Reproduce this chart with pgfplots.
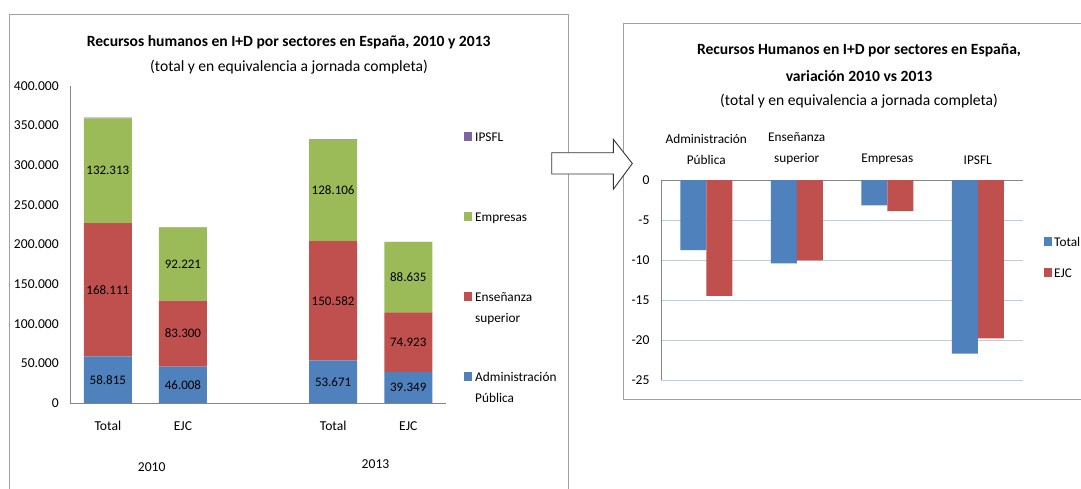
\documentclass[border=0pt]{standalone}
\usepackage{pgfplots}
\pgfplotsset{compat=1.18}
\usepackage{pgfplotstable}
\usepackage{fontspec}
\setmainfont{Carlito}
\definecolor{cblue}{HTML}{4F81BD}
\definecolor{cred}{HTML}{C0504D}
\definecolor{cgreen}{HTML}{9BBB59}
\definecolor{cpurple}{HTML}{8064A2}
\definecolor{framegray}{HTML}{A0A0A0}
\definecolor{axisgray}{HTML}{868686}
\definecolor{gridblue}{HTML}{B9CDE5}
\pgfkeys{/pgf/number format/assume math mode=true}

\pgfplotstableread{
x adm ens emp ipsfl
0 58815 168111 132313 707
1 46008 83300 92221 493
3 53671 150582 128106 553
4 39349 74923 88635 395
}\stackdata

\pgfplotstableread{
x total ejc
0 -8.75 -14.47
1 -10.43 -10.06
2 -3.18 -3.89
3 -21.7 -19.8
}\vardata

\newcommand{\fs}{\fontsize{13.6}{16}\selectfont}
\newcommand{\fl}{\fontsize{13}{16}\selectfont}
\newcommand{\ft}{\fontsize{15.6}{18}\selectfont}

\pgfplotsset{
  sqlegend/.style={legend image code/.code={\fill[##1] (0pt,0pt) rectangle (8pt,9pt);}},
  midlabel/.style={
    nodes near coords={\pgfmathprintnumber[fixed,precision=0,1000 sep={.}]{\pgfplotspointmeta}},
    point meta={\thisrow{#1}},
    every node near coord/.append style={font=\fl, text=black, inner sep=0pt},
  },
}

\begin{document}
\begin{tikzpicture}[x=1pt,y=1pt]
\clip (0,0) rectangle (1081,-488);
\fill[white] (0,0) rectangle (1081,-488);
\draw[framegray, line width=1pt] (9.2,-14.7) rectangle (568.6,-500);
\draw[framegray, line width=1pt] (623,-23) rectangle (1100,-399);

\begin{axis}[
  at={(70.3pt,-403pt)}, anchor=south west,
  scale only axis, width=375.5pt, height=317pt,
  ybar stacked, bar width=48pt,
  xmin=-0.5, xmax=4.5, ymin=0, ymax=400000,
  axis x line*=bottom, axis y line*=left,
  axis line style={axisgray, line width=1pt},
  xtick={0,1,3,4}, xticklabels={Total,EJC,Total,EJC},
  ytick={0,50000,...,400000},
  scaled y ticks=false,
  major tick length=0pt,
  tick label style={font=\fs},
  yticklabel style={/pgf/number format/fixed, /pgf/number format/precision=0, /pgf/number format/1000 sep={.}, xshift=-8pt},
  xticklabel style={yshift=-15pt},
  clip=false,
  legend style={draw=none, fill=none, at={(1.0485,0.855)}, anchor=north west, inner sep=0pt,
    row sep=69pt, column sep=3pt, font=\fontsize{13.3}{21}\selectfont,
    nodes={inner sep=0pt, text height=9pt, text depth=2pt}, cells={anchor=base west}},
  reverse legend,
]
\addplot[fill=cblue, draw=none, sqlegend, midlabel=adm] table[x=x, y=adm] {\stackdata};
\addlegendentry{\begin{tabular}[t]{@{}l@{}}Administración\\Pública\end{tabular}}
\addplot[fill=cred, draw=none, sqlegend, midlabel=ens] table[x=x, y=ens] {\stackdata};
\addlegendentry{\begin{tabular}[t]{@{}l@{}}Enseñanza\\superior\end{tabular}}
\addplot[fill=cgreen, draw=none, sqlegend, midlabel=emp] table[x=x, y=emp] {\stackdata};
\addlegendentry{Empresas}
\addplot[fill=cpurple, draw=none, sqlegend] table[x=x, y=ipsfl] {\stackdata};
\addlegendentry{IPSFL}
\end{axis}

\node[font=\fs] at (151.7,-467) {2010};
\node[font=\fs] at (375.5,-464) {2013};
\node[font=\bfseries\ft] at (288.7,-42) {Recursos humanos en I+D por sectores en España, 2010 y 2013};
\node[font=\ft] at (289,-67) {(total y en equivalencia a jornada completa)};

\begin{axis}[
  at={(661pt,-380pt)}, anchor=south west,
  scale only axis, width=362pt, height=200pt,
  ybar=0pt, bar width=26pt,
  xmin=-0.5, xmax=3.5, ymin=-25, ymax=0,
  axis x line*=top, axis y line*=left,
  axis line style={axisgray, line width=1pt},
  ymajorgrids, grid style={gridblue, line width=1pt},
  xtick={0,1,2,3},
  xticklabels={{Administración\\Pública},{Enseñanza\\superior},Empresas,IPSFL},
  xticklabel style={align=center, anchor=south, yshift=12pt, font=\fontsize{13.3}{21}\selectfont},
  ytick={-25,-20,...,0},
  major tick length=0pt,
  tick label style={font=\fs},
  yticklabel style={/pgf/number format/fixed, xshift=-8pt},
  clip=false,
  legend style={draw=none, fill=none, at={(1.058,0.715)}, anchor=north west, inner sep=0pt,
    row sep=20pt, column sep=2pt, font=\fontsize{13.3}{16}\selectfont,
    nodes={inner sep=0pt, text height=9pt, text depth=2pt}, cells={anchor=base west}},
]
\addplot[fill=cblue, draw=none, sqlegend] table[x=x, y=total] {\vardata};
\addlegendentry{Total}
\addplot[fill=cred, draw=none, sqlegend] table[x=x, y=ejc] {\vardata};
\addlegendentry{EJC}
\end{axis}

\node[font=\bfseries\ft] at (859,-50) {Recursos Humanos en I+D por sectores en España,};
\node[font=\bfseries\ft] at (859,-76) {variación 2010 vs 2013};
\node[font=\ft] at (859,-101) {(total y en equivalencia a jornada completa)};

\draw[black!80, fill=white, line width=0.9pt] (551.7,-152.7) -- (613.3,-152.7) -- (613.3,-139.3) -- (632.3,-163.5) -- (613.3,-189.3) -- (613.3,-174) -- (551.7,-174) -- cycle;
\end{tikzpicture}
\end{document}
